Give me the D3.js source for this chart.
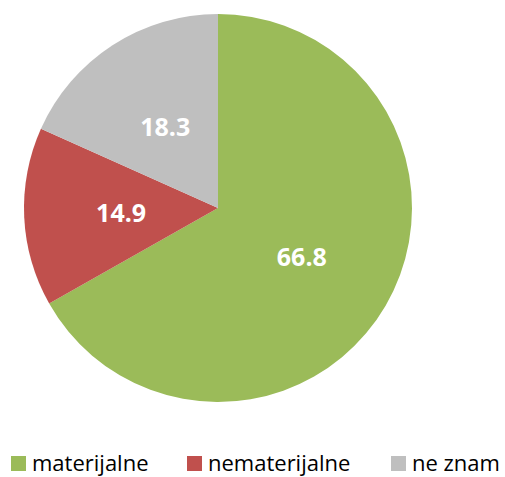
<!DOCTYPE html>
<html><head><meta charset="utf-8">
<script src="https://cdn.jsdelivr.net/npm/d3@7"></script>
<style>body{margin:0;background:#fff}svg{display:block}</style>
</head><body>
<svg id="c" width="505" height="477"></svg>
<script>
const categories = ["materijalne", "nematerijalne", "ne znam"];
const values = [66.8, 14.9, 18.3];
const colors = ["#9BBB59", "#C0504D", "#BFBFBF"];

const svg = d3.select("#c");
const cx = 218, cy = 208, r = 194;
const data = categories.map((c, i) => ({ c, v: values[i], col: colors[i] }));
const pie = d3.pie().value(d => d.v).sort(null);
const arcs = pie(data);
const arc = d3.arc().innerRadius(0).outerRadius(r);
const labelArc = d3.arc().innerRadius(r * 0.5).outerRadius(r * 0.5);
const g = svg.append("g").attr("transform", `translate(${cx},${cy})`);
g.selectAll("path").data(arcs).join("path").attr("d", arc).attr("fill", d => d.data.col);
g.selectAll("text").data(arcs).join("text")
  .attr("transform", d => `translate(${labelArc.centroid(d)})`)
  .attr("text-anchor", "middle").attr("dy", "0.36em")
  .attr("fill", "#fff").attr("font-family", "Open Sans").attr("font-weight", "bold")
  .attr("font-size", 25).text(d => d.data.v.toFixed(1));

const legendX = [11, 187, 391];
const lg = svg.append("g");
data.forEach((d, i) => {
  lg.append("rect").attr("x", legendX[i]).attr("y", 456).attr("width", 15).attr("height", 15).attr("fill", d.col);
  lg.append("text").attr("x", legendX[i] + 21).attr("y", 470.5).attr("font-family", "Open Sans")
    .attr("font-size", 22).attr("fill", "#000").text(d.c);
});
</script>
</body></html>
